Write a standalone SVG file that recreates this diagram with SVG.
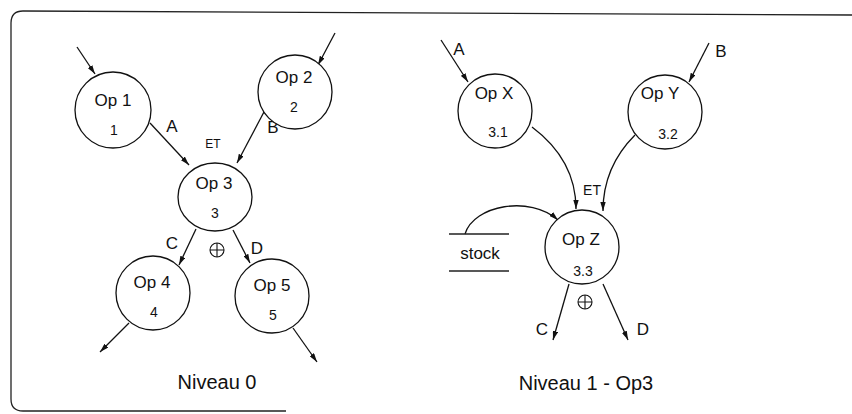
<svg xmlns="http://www.w3.org/2000/svg" width="852" height="414" viewBox="0 0 852 414">
<defs>
<marker id="ah" viewBox="0 0 10 6" refX="10" refY="3" markerWidth="9" markerHeight="5.4" markerUnits="userSpaceOnUse" orient="auto">
<path d="M0,0 L10,3 L0,6 Z" fill="#111"/>
</marker>
<style>
.n{fill:#fff;stroke:#111;stroke-width:1.3}
.c{fill:none;stroke:#111;stroke-width:1.3;marker-end:url(#ah)}
.t{font-family:"Liberation Sans",Arial,sans-serif;fill:#111;text-anchor:middle}
.big{font-size:17px}
.num{font-size:14px}
.lbl{font-size:17px}
.ttl{font-size:20px}
.et{font-size:12px}
.frame{fill:none;stroke:#222;stroke-width:1.3}
.xo{fill:none;stroke:#111;stroke-width:1.1}
</style>
</defs>
<path class="frame" d="M852,15 L23,11 Q11,11 11,23 V399 Q11,411 23,411 H286"/>
<g id="connectors">
<path class="c" d="M77,47 L95,74"/>
<path class="c" d="M150,123 L189,165"/>
<path class="c" d="M335,33 L318,65"/>
<path class="c" d="M265,110 L237,163"/>
<path class="c" d="M196,229 L179,265"/>
<path class="c" d="M233,230 L250,263"/>
<path class="c" d="M129,323 L100,352"/>
<path class="c" d="M293,328 L317,362"/>
<path class="c" d="M441,40 L468,82"/>
<path class="c" d="M709,43 L689,82"/>
<path class="c" d="M532,127 C560,148 576,175 576,209"/>
<path class="c" d="M635,135 C612,158 603,185 603,211"/>
<path class="c" d="M465,234 C474,205 530,195 558,220"/>
<path class="c" d="M569,284 L553,340"/>
<path class="c" d="M603,284 L628,340"/>
</g>
<g id="labels0">
<text class="t lbl" x="172" y="132">A</text>
<text class="t lbl" x="273" y="133">B</text>
<text class="t et" x="213" y="148">ET</text>
<text class="t lbl" x="172" y="249">C</text>
<text class="t lbl" x="257" y="254">D</text>
<g id="xor0"><circle class="xo" cx="217" cy="250" r="7"/><path class="xo" d="M210,250 H224 M217,243 V257"/></g>
<text class="t ttl" x="217" y="389">Niveau 0</text>
</g>
<g id="op1"><circle class="n" cx="113" cy="110" r="38"/><text class="t big" x="113" y="106">Op 1</text><text class="t num" x="114" y="135">1</text></g>
<g id="op2"><circle class="n" cx="295" cy="92" r="37"/><text class="t big" x="294" y="83">Op 2</text><text class="t num" x="294" y="112">2</text></g>
<g id="op3"><ellipse class="n" cx="215" cy="197" rx="37" ry="34"/><text class="t big" x="214" y="189">Op 3</text><text class="t num" x="215" y="218">3</text></g>
<g id="op4"><circle class="n" cx="153" cy="293" r="37"/><text class="t big" x="152" y="288">Op 4</text><text class="t num" x="154" y="317">4</text></g>
<g id="op5"><circle class="n" cx="272" cy="296" r="37"/><text class="t big" x="272" y="291">Op 5</text><text class="t num" x="273" y="320">5</text></g>
<g id="labels1">
<text class="t lbl" x="459" y="55">A</text>
<text class="t lbl" x="721" y="57">B</text>
<text class="t" style="font-size:14px" x="592" y="195">ET</text>
<text class="t lbl" x="542" y="335">C</text>
<text class="t lbl" x="643" y="335">D</text>
<g id="xor1"><circle class="xo" cx="585" cy="302" r="7"/><path class="xo" d="M578,302 H592 M585,295 V309"/></g>
<text class="t ttl" x="586" y="390">Niveau 1 - Op3</text>
</g>
<g id="opX"><circle class="n" cx="495" cy="111" r="37"/><text class="t big" x="494" y="99">Op X</text><text class="t num" x="498" y="137">3.1</text></g>
<g id="opY"><circle class="n" cx="665" cy="112" r="37"/><text class="t big" x="660" y="99">Op Y</text><text class="t num" x="668" y="139">3.2</text></g>
<g id="opZ"><circle class="n" cx="582" cy="247" r="37"/><text class="t big" x="581" y="245">Op Z</text><text class="t num" x="583" y="276">3.3</text></g>
<g id="stock">
<path class="frame" d="M449,234 H509 M449,271 H509"/>
<text class="t big" x="480" y="259">stock</text>
</g>
</svg>
